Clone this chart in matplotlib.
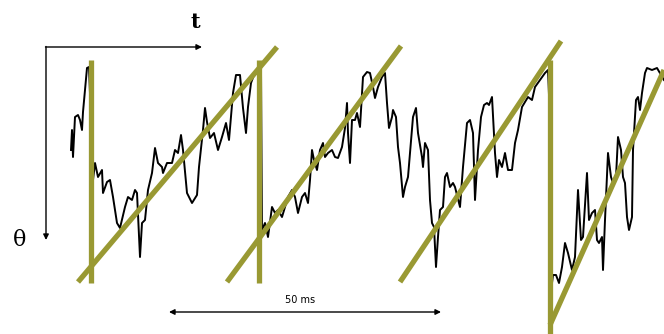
import matplotlib.pyplot as plt

# noisy angle trace (x: time in px, y: theta in px, downward)
t = [71, 72, 73, 75, 78, 80, 82, 83, 85, 87, 89, 91, 92, 93, 95, 98, 102, 103, 107, 110,
     113, 117, 120, 125, 128, 132, 135, 137, 140, 142, 145, 148, 152, 155, 158, 162, 163, 167,
     172, 175, 178, 181, 183, 187, 192, 197, 199, 203, 205, 207, 210, 214, 218, 222, 226, 229,
     233, 236, 240, 243, 246, 248, 251, 254, 257, 261, 262, 265, 268, 272, 275, 278, 282, 285,
     288, 292, 295, 298, 302, 305, 308, 310, 312, 314, 317, 320, 323, 325, 328, 332, 335, 338,
     342, 345, 347, 348, 350, 352, 355, 357, 360, 363, 367, 370, 373, 375, 378, 382, 385, 387,
     389, 392, 393, 396, 398, 400, 403, 405, 408, 413, 416, 418, 422, 423, 425, 428, 430, 432,
     434, 436, 438, 440, 443, 445, 447, 450, 453, 455, 460, 463, 467, 470, 473, 475, 478, 481,
     484, 487, 489, 492, 495, 497, 499, 502, 505, 508, 512, 515, 518, 522, 525, 528, 532, 535,
     540, 545, 548, 550, 552, 553, 556, 559, 562, 565, 568, 572, 575, 578, 581, 583, 587, 589,
     592, 595, 597, 599, 602, 603, 605, 608, 611, 613, 616, 618, 621, 623, 625, 627, 629, 632,
     633, 636, 638, 640, 642, 645, 647, 652, 657, 664]
theta = [150, 130, 157, 117, 115, 120, 130, 112, 90, 68, 67, 120, 257, 180, 163, 177, 170, 193, 182, 180,
         197, 223, 228, 207, 197, 200, 190, 193, 257, 223, 220, 190, 173, 148, 163, 167, 173, 163,
         163, 150, 153, 135, 150, 193, 203, 195, 167, 130, 108, 122, 138, 133, 150, 137, 123, 140,
         93, 75, 75, 108, 133, 107, 83, 75, 73, 70, 230, 223, 237, 207, 213, 210, 217, 207,
         197, 190, 197, 213, 197, 193, 203, 180, 150, 160, 170, 150, 143, 157, 153, 150, 157, 158,
         147, 128, 103, 133, 163, 120, 120, 113, 127, 77, 72, 73, 87, 98, 87, 77, 73, 103,
         128, 117, 110, 117, 147, 163, 197, 187, 177, 117, 108, 133, 157, 167, 143, 150, 200, 223,
         227, 267, 237, 210, 207, 177, 173, 187, 183, 187, 207, 167, 123, 120, 133, 200, 150, 117,
         105, 103, 105, 97, 153, 177, 160, 167, 153, 170, 170, 143, 130, 107, 102, 97, 100, 87,
         80, 73, 70, 120, 283, 275, 275, 283, 267, 243, 253, 270, 257, 190, 240, 237, 173, 220,
         213, 210, 240, 243, 237, 270, 220, 153, 177, 183, 177, 137, 150, 177, 183, 217, 230, 217,
         150, 100, 97, 110, 93, 73, 68, 70, 68, 80]

# fitted sawtooth: rising ramps and resets
ramp_t0 = [78, 227, 400, 550]
ramp_th0 = [282, 282, 282, 325]
ramp_t1 = [277, 401, 561, 664]
ramp_th1 = [47, 46, 41, 70]
reset_t = [91, 259, 550]
reset_top = [60, 60, 60]
reset_bot = [283, 283, 334]

olive = '#999933'

fig = plt.figure(figsize=(6.64, 3.34), dpi=100)
ax = fig.add_axes([0, 0, 1, 1])
ax.set_xlim(0, 664)
ax.set_ylim(334, 0)
ax.axis('off')

ax.plot(t, theta, color='black', lw=1.4, zorder=1)

for x0, y0, x1, y1 in zip(ramp_t0, ramp_th0, ramp_t1, ramp_th1):
    ax.plot([x0, x1], [y0, y1], color=olive, lw=3.8, solid_capstyle='butt', zorder=2)
for x, y0, y1 in zip(reset_t, reset_top, reset_bot):
    ax.plot([x, x], [y0, y1], color=olive, lw=3.8, solid_capstyle='butt', zorder=2)

# axes arrows
arrow = dict(arrowstyle='-|>', color='black', lw=1.0, mutation_scale=8, shrinkA=0, shrinkB=0)
ax.annotate('', xy=(46, 240), xytext=(46, 46.5), arrowprops=arrow)
ax.annotate('', xy=(202, 47), xytext=(45.5, 47), arrowprops=arrow)
ax.text(195, 22, 't', fontsize=15, family='DejaVu Serif', fontweight='bold',
        ha='center', va='center')
ax.text(20, 240, 'θ', fontsize=16, family='DejaVu Serif', ha='center', va='center')

# scale bar
ax.annotate('', xy=(169, 312), xytext=(441, 312),
            arrowprops=dict(arrowstyle='<|-|>', color='black', lw=1.0, mutation_scale=8,
                            shrinkA=0, shrinkB=0))
ax.text(300, 300, '50 ms', fontsize=7, ha='center', va='center')

plt.savefig('out.png', dpi=100)
